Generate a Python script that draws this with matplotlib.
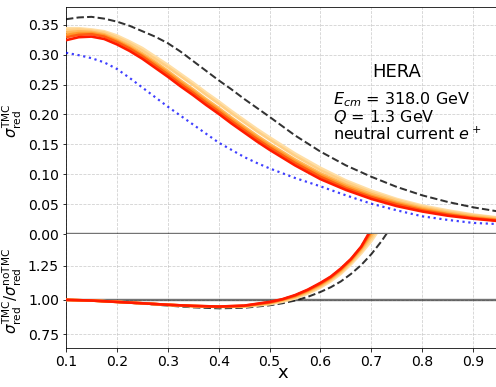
import matplotlib
matplotlib.use("Agg")
import matplotlib.pyplot as plt

# -------------------------------------------------------
# Data
# -------------------------------------------------------
x_top = [0.100, 0.125, 0.150, 0.175, 0.200, 0.225, 0.250, 0.275, 0.300,
         0.325, 0.350, 0.375, 0.400, 0.425, 0.450, 0.475, 0.500, 0.550,
         0.600, 0.650, 0.700, 0.750, 0.800, 0.850, 0.900, 0.950]

# TMC curves, palest first, dark red last
sig_tmc_5 = [0.344, 0.344, 0.342, 0.339, 0.332, 0.322, 0.311, 0.297, 0.283,
             0.268, 0.253, 0.237, 0.222, 0.206, 0.191, 0.176, 0.162, 0.135,
             0.111, 0.090, 0.073, 0.059, 0.048, 0.040, 0.033, 0.028]
sig_tmc_4 = [0.341, 0.342, 0.340, 0.337, 0.329, 0.319, 0.307, 0.293, 0.279,
             0.264, 0.249, 0.233, 0.218, 0.202, 0.187, 0.172, 0.158, 0.131,
             0.107, 0.087, 0.070, 0.057, 0.046, 0.038, 0.032, 0.027]
sig_tmc_3 = [0.337, 0.339, 0.338, 0.334, 0.325, 0.315, 0.302, 0.288, 0.273,
             0.257, 0.242, 0.226, 0.211, 0.195, 0.180, 0.165, 0.151, 0.125,
             0.102, 0.083, 0.067, 0.054, 0.044, 0.036, 0.030, 0.025]
sig_tmc_2 = [0.333, 0.336, 0.336, 0.332, 0.323, 0.312, 0.299, 0.285, 0.270,
             0.254, 0.239, 0.223, 0.208, 0.192, 0.177, 0.162, 0.148, 0.122,
             0.099, 0.080, 0.064, 0.052, 0.042, 0.034, 0.028, 0.024]
sig_tmc_1 = [0.329, 0.333, 0.334, 0.330, 0.321, 0.310, 0.297, 0.282, 0.267,
             0.251, 0.236, 0.220, 0.205, 0.189, 0.174, 0.159, 0.145, 0.119,
             0.096, 0.077, 0.062, 0.050, 0.040, 0.033, 0.027, 0.023]
sig_tmc_0 = [0.324, 0.329, 0.330, 0.326, 0.317, 0.306, 0.293, 0.278, 0.263,
             0.247, 0.232, 0.216, 0.201, 0.185, 0.170, 0.155, 0.141, 0.115,
             0.092, 0.074, 0.059, 0.047, 0.038, 0.031, 0.026, 0.022]

sig_dashed = [0.359, 0.362, 0.363, 0.360, 0.355, 0.348, 0.339, 0.330, 0.319,
              0.305, 0.289, 0.273, 0.257, 0.242, 0.226, 0.211, 0.196, 0.165,
              0.138, 0.115, 0.096, 0.079, 0.065, 0.054, 0.045, 0.038]
sig_dotted = [0.303, 0.299, 0.294, 0.287, 0.276, 0.261, 0.245, 0.229, 0.213,
              0.198, 0.183, 0.168, 0.153, 0.141, 0.129, 0.119, 0.110, 0.094,
              0.080, 0.065, 0.051, 0.040, 0.030, 0.024, 0.019, 0.017]

x_rat = [0.10, 0.15, 0.20, 0.25, 0.30, 0.35, 0.40, 0.45, 0.50, 0.525,
         0.55, 0.575, 0.60, 0.62, 0.64, 0.66, 0.68, 0.70, 0.72, 0.74]

rat_5 = [1.000, 0.995, 0.986, 0.975, 0.963, 0.953, 0.948, 0.950, 0.968, 0.986,
         1.010, 1.045, 1.090, 1.135, 1.190, 1.260, 1.340, 1.430, 1.540, 1.660]
rat_4 = [1.000, 0.995, 0.986, 0.975, 0.963, 0.954, 0.949, 0.952, 0.972, 0.992,
         1.016, 1.053, 1.098, 1.145, 1.200, 1.272, 1.355, 1.450, 1.560, 1.680]
rat_3 = [1.000, 0.995, 0.985, 0.975, 0.964, 0.955, 0.950, 0.954, 0.976, 0.997,
         1.022, 1.060, 1.106, 1.152, 1.210, 1.282, 1.368, 1.470, 1.580, 1.700]
rat_2 = [1.000, 0.995, 0.985, 0.975, 0.964, 0.955, 0.950, 0.955, 0.979, 1.001,
         1.027, 1.066, 1.113, 1.160, 1.218, 1.290, 1.378, 1.490, 1.600, 1.720]
rat_1 = [1.000, 0.995, 0.985, 0.975, 0.964, 0.956, 0.951, 0.957, 0.982, 1.003,
         1.031, 1.071, 1.119, 1.165, 1.225, 1.297, 1.386, 1.505, 1.620, 1.740]
rat_0 = [1.000, 0.995, 0.985, 0.975, 0.964, 0.956, 0.951, 0.958, 0.985, 1.005,
         1.035, 1.075, 1.125, 1.170, 1.230, 1.300, 1.390, 1.520, 1.640, 1.760]

rat_dashed = [1.000, 0.995, 0.985, 0.972, 0.958, 0.945, 0.938, 0.942, 0.960, 0.975,
              0.995, 1.022, 1.058, 1.092, 1.135, 1.190, 1.255, 1.335, 1.430, 1.540]
rat_dotted = [1.000, 0.995, 0.985, 0.975, 0.963, 0.954, 0.949, 0.956, 0.983, 1.004,
              1.033, 1.073, 1.122, 1.168, 1.228, 1.299, 1.389, 1.515, 1.630, 1.750]

tmc_curves = [sig_tmc_5, sig_tmc_4, sig_tmc_3, sig_tmc_2, sig_tmc_1, sig_tmc_0]
rat_curves = [rat_5, rat_4, rat_3, rat_2, rat_1, rat_0]
colors = ["#ffdfa6", "#ffcf85", "#ffb85a", "#ff9a2e", "#ff5e10", "#ff1a00"]

# -------------------------------------------------------
# Plot (72 dpi: 1 pt = 1 px)
# -------------------------------------------------------
fig = plt.figure(figsize=(496 / 72, 387 / 72), dpi=72)
ax1 = fig.add_axes([0.1331, 0.3946, 0.8722, 0.5882])
ax2 = fig.add_axes([0.1331, 0.1016, 0.8722, 0.2930], sharex=ax1)

# -- top: reduced cross section --
ax1.plot(x_top, sig_dashed, "--", color="k", alpha=0.8, linewidth=2.0, zorder=3)
ax1.plot(x_top, sig_dotted, ":", color="blue", alpha=0.75, linewidth=2.2, zorder=3)
for ys, c in zip(tmc_curves, colors):
    ax1.plot(x_top, ys, "-", color=c, linewidth=2.6, zorder=4)
ax1.axhline(0, color="k", alpha=0.55, linewidth=2.4)
ax1.set_ylim(0, 0.38)
ax1.set_yticks([0.00, 0.05, 0.10, 0.15, 0.20, 0.25, 0.30, 0.35])
ax1.set_yticklabels(["0.00", "0.05", "0.10", "0.15", "0.20", "0.25", "0.30", "0.35"])
ax1.set_ylabel(r"$\sigma_{\mathrm{red}}^{\mathrm{TMC}}$", fontsize=15)
ax1.tick_params(labelbottom=False, labelsize=14)
ax1.spines["bottom"].set_visible(False)
ax1.grid(True, linestyle="--", alpha=0.6)

ax1.text(0.764, 0.713, "HERA", transform=ax1.transAxes, fontsize=18,
         ha="center", va="center")
ax1.text(0.617, 0.591, r"$E_{cm}$ = 318.0 GeV", transform=ax1.transAxes,
         fontsize=16, ha="left", va="center")
ax1.text(0.617, 0.514, r"$Q$ = 1.3 GeV", transform=ax1.transAxes,
         fontsize=16, ha="left", va="center")
ax1.text(0.617, 0.437, r"neutral current $e^+$", transform=ax1.transAxes,
         fontsize=16, ha="left", va="center")

# -- bottom: ratio --
ax2.plot(x_rat, rat_dashed, "--", color="k", alpha=0.8, linewidth=2.0, zorder=3)
ax2.plot(x_rat, rat_dotted, ":", color="blue", alpha=0.75, linewidth=2.2, zorder=3)
for ys, c in zip(rat_curves, colors):
    ax2.plot(x_rat, ys, "-", color=c, linewidth=2.6, zorder=4)
ax2.axhline(1, color="k", alpha=0.55, linewidth=2.4)
ax2.set_ylim(0.65, 1.48)
ax2.set_yticks([0.75, 1.00, 1.25])
ax2.set_xlim(0.1, 0.95)
ax2.set_xticks([0.1, 0.2, 0.3, 0.4, 0.5, 0.6, 0.7, 0.8, 0.9])
ax2.set_xlabel("x", fontsize=18, labelpad=-5)
ax2.set_ylabel(r"$\sigma_{\mathrm{red}}^{\mathrm{TMC}}/\sigma_{\mathrm{red}}^{\mathrm{noTMC}}$",
               fontsize=15)
ax2.tick_params(labelsize=14)
ax2.spines["top"].set_visible(False)
ax2.grid(True, linestyle="--", alpha=0.6)

fig.savefig("out.png", dpi=72)
